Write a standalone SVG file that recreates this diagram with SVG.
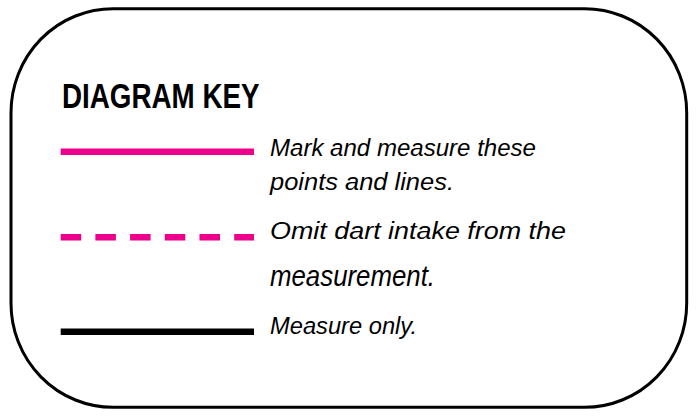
<svg xmlns="http://www.w3.org/2000/svg" width="700" height="416" viewBox="0 0 700 416">
  <style>
    .frame { fill: #ffffff; stroke: #000000; stroke-width: 3; }
    .title { font-family: "Liberation Sans", Arial, sans-serif; font-weight: bold; font-size: 35px; fill: #000000; }
    .label { font-family: "Liberation Sans", Arial, sans-serif; font-style: italic; font-size: 24.5px; fill: #000000; }
    .big { font-size: 30px; }
    .pink { stroke: #EC008C; stroke-width: 6.5; fill: none; }
    .dash { stroke-dasharray: 20.5 14.2; }
    .black { stroke: #000000; stroke-width: 6.5; fill: none; }
  </style>
  <rect width="700" height="416" fill="#ffffff"/>
  <g id="frame">
    <rect class="frame" x="11" y="8.7" width="675.7" height="398.6" rx="102" ry="104"/>
  </g>
  <g id="title">
    <text class="title" x="62" y="108.3" textLength="197.5" lengthAdjust="spacingAndGlyphs">DIAGRAM KEY</text>
  </g>
  <g id="connectors">
    <line class="pink" x1="60.7" y1="151.7" x2="254" y2="151.7"/>
    <line class="pink dash" x1="60.7" y1="237.3" x2="254" y2="237.3"/>
    <line class="black" x1="60.7" y1="331.7" x2="254" y2="331.7"/>
  </g>
  <g id="key-mark">
    <text class="label" x="270" y="156" textLength="266" lengthAdjust="spacingAndGlyphs">Mark and measure these</text>
    <text class="label" x="270" y="190" textLength="184" lengthAdjust="spacingAndGlyphs">points and lines.</text>
  </g>
  <g id="key-omit">
    <text class="label" x="270" y="239.3" textLength="296" lengthAdjust="spacingAndGlyphs">Omit dart intake from the</text>
    <text class="label big" x="270" y="285.5" textLength="165" lengthAdjust="spacingAndGlyphs">measurement.</text>
  </g>
  <g id="key-measure">
    <text class="label" x="270" y="334.3" textLength="147" lengthAdjust="spacingAndGlyphs">Measure only.</text>
  </g>
</svg>
